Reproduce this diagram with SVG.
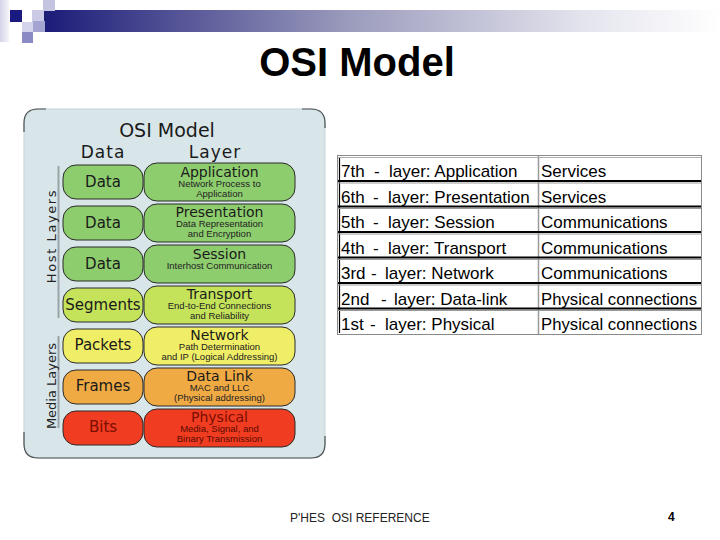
<svg xmlns="http://www.w3.org/2000/svg" width="720" height="540" viewBox="0 0 720 540">
<defs>
<linearGradient id="bar" x1="0" y1="0" x2="1" y2="0">
<stop offset="0" stop-color="#1a1a78"/>
<stop offset="0.45" stop-color="#9a9abc"/>
<stop offset="0.8" stop-color="#e4e4ee"/>
<stop offset="1" stop-color="#ffffff"/>
</linearGradient>
<linearGradient id="lcol" x1="0" y1="0" x2="1" y2="0">
<stop offset="0" stop-color="#d4d4ea"/>
<stop offset="1" stop-color="#f4f4fa"/>
</linearGradient>
</defs>
<style>
.title{font-family:"Liberation Sans",Arial,sans-serif;font-weight:bold;font-size:40px;fill:#000}
.ph{font-family:"DejaVu Sans",Verdana,sans-serif;fill:#1a1a1a}
.box{stroke:#2a2a2a;stroke-width:1}
.dt{font-family:"DejaVu Sans",Verdana,sans-serif;font-size:15px;fill:#1a1a1a;text-anchor:middle}
.lt{font-family:"DejaVu Sans",Verdana,sans-serif;font-size:14px;fill:#1a1a1a;text-anchor:middle}
.st{font-family:"Liberation Sans",Arial,sans-serif;font-size:9.5px;fill:#222;text-anchor:middle}
.side{font-family:"DejaVu Sans",Verdana,sans-serif;font-size:13px;fill:#222;text-anchor:middle}
.tb{font-family:"Liberation Sans",Arial,sans-serif;font-size:17px;fill:#000}
.sep{stroke:#000;stroke-width:2}
.sepg{stroke:#9a9a9a;stroke-width:1}
.foot{font-family:"Liberation Sans",Arial,sans-serif;font-size:12px;fill:#222}
</style>
<rect width="720" height="540" fill="#ffffff"/>

<g id="header">
<rect x="0" y="0" width="9" height="42" fill="url(#lcol)"/>
<rect x="40" y="10" width="680" height="22" fill="url(#bar)"/>
<rect x="43" y="0" width="12" height="11" fill="#c4c4e0"/>
<rect x="10" y="10" width="12" height="12" fill="#1a1a80"/>
<rect x="32" y="10" width="12" height="12" fill="#cacae6"/>
<rect x="22" y="22" width="11" height="10" fill="#d4d4ec"/>
<rect x="33" y="21" width="12" height="11" fill="#a4a4d2"/>
<rect x="22" y="32" width="11" height="11" fill="#8a8ac4"/>
</g>

<text class="title" x="357" y="76" text-anchor="middle">OSI Model</text>

<g id="osi-panel">
<rect x="24" y="109" width="301" height="349" rx="14" fill="#d9e6e9" stroke="#c4d3d7" stroke-width="1"/>
<path d="M24,132 L24,123 Q24,109 38,109 L46,109" fill="none" stroke="#4a4f52" stroke-width="1.2"/>
<path d="M302,109 L311,109 Q325,109 325,123 L325,128" fill="none" stroke="#4a4f52" stroke-width="1.2"/>
<path d="M24,432 L24,444 Q24,458 38,458 L311,458 Q325,458 325,444 L325,436" fill="none" stroke="#4a4f52" stroke-width="1.2"/>
<text class="ph" x="167" y="137" font-size="19" text-anchor="middle">OSI Model</text>
<text class="ph" x="103" y="158" font-size="17" text-anchor="middle" letter-spacing="1">Data</text>
<text class="ph" x="215" y="158" font-size="17" text-anchor="middle" letter-spacing="1">Layer</text>
<line x1="58.5" y1="166" x2="58.5" y2="318" stroke="#9aa4a8" stroke-width="2"/>
<line x1="58.5" y1="336" x2="58.5" y2="428" stroke="#9aa4a8" stroke-width="2"/>
<text class="side" transform="translate(56,236) rotate(-90)" letter-spacing="1.6">Host Layers</text>
<text class="side" transform="translate(56,386) rotate(-90)">Media Layers</text>
</g>

<g id="layer7">
<rect class="box" x="63" y="165" width="80" height="34" rx="13" fill="#8ecd6e"/>
<rect class="box" x="144" y="163" width="151" height="38" rx="13" fill="#8ecd6e"/>
<text class="dt" x="103" y="187">Data</text>
<text class="lt" x="219.5" y="177">Application</text>
<text class="st" x="219.5" y="187">Network Process to</text>
<text class="st" x="219.5" y="197">Application</text>
</g>
<g id="layer6">
<rect class="box" x="63" y="206" width="80" height="34" rx="13" fill="#8ecd6e"/>
<rect class="box" x="144" y="204" width="151" height="38" rx="13" fill="#8ecd6e"/>
<text class="dt" x="103" y="228">Data</text>
<text class="lt" x="219.5" y="217">Presentation</text>
<text class="st" x="219.5" y="227">Data Representation</text>
<text class="st" x="219.5" y="237">and Encryption</text>
</g>
<g id="layer5">
<rect class="box" x="63" y="247" width="80" height="34" rx="13" fill="#8ecd6e"/>
<rect class="box" x="144" y="245" width="151" height="38" rx="13" fill="#8ecd6e"/>
<text class="dt" x="103" y="269">Data</text>
<text class="lt" x="219.5" y="259">Session</text>
<text class="st" x="219.5" y="269">Interhost Communication</text>
</g>
<g id="layer4">
<rect class="box" x="63" y="288" width="80" height="34" rx="13" fill="#c4e25a"/>
<rect class="box" x="144" y="286" width="151" height="38" rx="13" fill="#c4e25a"/>
<text class="dt" x="103" y="310">Segments</text>
<text class="lt" x="219.5" y="299">Transport</text>
<text class="st" x="219.5" y="309">End-to-End Connections</text>
<text class="st" x="219.5" y="319">and Reliability</text>
</g>
<g id="layer3">
<rect class="box" x="63" y="329" width="80" height="34" rx="13" fill="#f0ee66"/>
<rect class="box" x="144" y="327" width="151" height="38" rx="13" fill="#f0ee66"/>
<text class="dt" x="103" y="350">Packets</text>
<text class="lt" x="219.5" y="340">Network</text>
<text class="st" x="219.5" y="350">Path Determination</text>
<text class="st" x="219.5" y="360">and IP (Logical Addressing)</text>
</g>
<g id="layer2">
<rect class="box" x="63" y="370" width="80" height="34" rx="13" fill="#f0aa44"/>
<rect class="box" x="144" y="368" width="151" height="38" rx="13" fill="#f0aa44"/>
<text class="dt" x="103" y="391">Frames</text>
<text class="lt" x="219.5" y="381">Data Link</text>
<text class="st" x="219.5" y="391">MAC and LLC</text>
<text class="st" x="219.5" y="401">(Physical addressing)</text>
</g>
<g id="layer1">
<rect class="box" x="63" y="411" width="80" height="34" rx="13" fill="#f03c20"/>
<rect class="box" x="144" y="409" width="151" height="38" rx="13" fill="#f03c20"/>
<text class="dt" x="103" y="432" style="fill:#7a0e00">Bits</text>
<text class="lt" x="219.5" y="422" style="fill:#7a0e00">Physical</text>
<text class="st" x="219.5" y="432" style="fill:#5a0a00">Media, Signal, and</text>
<text class="st" x="219.5" y="442" style="fill:#5a0a00">Binary Transmission</text>
</g>

<g id="table">
<rect x="337.5" y="155.5" width="364" height="179" fill="#ffffff" stroke="#8a8a8a" stroke-width="1"/>
<line x1="339.5" y1="157" x2="339.5" y2="333" stroke="#000" stroke-width="1.2"/>
<line x1="538.5" y1="156" x2="538.5" y2="334" stroke="#9a9a9a" stroke-width="1.5"/>
<line x1="338" y1="157.5" x2="701" y2="157.5" stroke="#b0b0b0" stroke-width="1"/>
<g id="separators">
<line class="sep" x1="338" y1="181" x2="701" y2="181"/><line class="sepg" x1="338" y1="183" x2="701" y2="183"/>
<line class="sep" x1="338" y1="206.5" x2="701" y2="206.5"/><line class="sepg" x1="338" y1="208.5" x2="701" y2="208.5"/>
<line class="sep" x1="338" y1="232" x2="701" y2="232"/><line class="sepg" x1="338" y1="234" x2="701" y2="234"/>
<line class="sep" x1="338" y1="257.5" x2="701" y2="257.5"/><line class="sepg" x1="338" y1="259.5" x2="701" y2="259.5"/>
<line class="sep" x1="338" y1="283" x2="701" y2="283"/><line class="sepg" x1="338" y1="285" x2="701" y2="285"/>
<line class="sep" x1="338" y1="308.5" x2="701" y2="308.5"/><line class="sepg" x1="338" y1="310.5" x2="701" y2="310.5"/>
</g>
<text class="tb" y="177"><tspan x="341">7th</tspan><tspan x="374">-</tspan><tspan x="389">layer: Application</tspan></text>
<text class="tb" y="202.5"><tspan x="341">6th</tspan><tspan x="373">-</tspan><tspan x="388">layer: Presentation</tspan></text>
<text class="tb" y="228"><tspan x="341">5th</tspan><tspan x="373">-</tspan><tspan x="388">layer: Session</tspan></text>
<text class="tb" y="253.5"><tspan x="341">4th</tspan><tspan x="373">-</tspan><tspan x="388">layer: Transport</tspan></text>
<text class="tb" y="279"><tspan x="341">3rd</tspan><tspan x="371">-</tspan><tspan x="385">layer: Network</tspan></text>
<text class="tb" y="304.5"><tspan x="341">2nd</tspan><tspan x="381">-</tspan><tspan x="394">layer: Data-link</tspan></text>
<text class="tb" y="330"><tspan x="341">1st</tspan><tspan x="370">-</tspan><tspan x="385">layer: Physical</tspan></text>
<text class="tb" x="541" y="177">Services</text>
<text class="tb" x="541" y="202.5">Services</text>
<text class="tb" x="541" y="228">Communications</text>
<text class="tb" x="541" y="253.5">Communications</text>
<text class="tb" x="541" y="279">Communications</text>
<text class="tb" x="541" y="304.5" textLength="156" lengthAdjust="spacingAndGlyphs">Physical connections</text>
<text class="tb" x="541" y="330" textLength="156" lengthAdjust="spacingAndGlyphs">Physical connections</text>
</g>

<g id="footer">
<text class="foot" x="290" y="522" style="white-space:pre">P'HES  OSI REFERENCE</text>
<text class="foot" x="668" y="521" font-weight="bold" style="fill:#000">4</text>
</g>
</svg>
